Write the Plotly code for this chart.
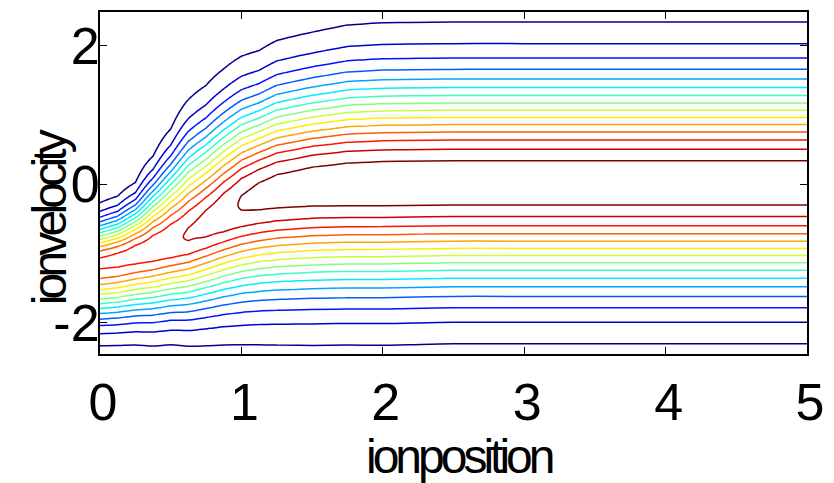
import numpy as np
import plotly.graph_objects as go

# Ion phase-space density: each column is a velocity profile sampled at an ion position.
# Profile described by its peak height (in contour-level units), centre velocity
# and separate thermal widths above and below the centre.
x_station = [0.0, 0.125, 0.25, 0.375, 0.5, 0.625, 0.75, 0.875, 1.0, 1.125,
             1.25, 1.5, 1.75, 2.0, 2.5, 3.0, 4.0, 5.0]
peak = [13.2, 13.3, 13.45, 13.65, 13.85, 14.1, 14.4, 14.75, 15.1, 15.35,
        15.5, 15.65, 15.75, 15.8, 15.8, 15.8, 15.8, 15.8]
center = [-1.13, -1.08, -1.0, -0.92, -0.83, -0.73, -0.58, -0.42, -0.27, -0.17,
          -0.10, -0.03, 0.0, 0.01, 0.02, 0.02, 0.02, 0.02]
width_upper = [0.38, 0.40, 0.45, 0.58, 0.71, 0.85, 0.87, 0.90, 0.91, 0.90,
               0.93, 0.95, 0.98, 0.99, 0.99, 0.99, 0.99, 0.99]
width_lower = [0.53, 0.55, 0.58, 0.62, 0.65, 0.70, 0.76, 0.82, 0.88, 0.92,
               0.95, 0.98, 0.99, 0.995, 0.99, 0.99, 0.99, 0.99]

x_ticks = [0, 1, 2, 3, 4, 5]
y_ticks = [-2, 0, 2]
y_tick_labels = ["-2", "0", "2"]

velocity = np.linspace(-2.6, 2.6, 261)

A = np.array(peak)[None, :]
u = np.array(center)[None, :]
su = np.array(width_upper)[None, :]
sl = np.array(width_lower)[None, :]
V = velocity[:, None]
sigma = np.where(V > u, su, sl)
density = A * np.exp(-0.5 * ((V - u) / sigma) ** 2)

jet = [[0.0, "rgb(0,0,143)"], [0.125, "rgb(0,0,255)"], [0.375, "rgb(0,255,255)"],
       [0.625, "rgb(255,255,0)"], [0.875, "rgb(255,0,0)"], [1.0, "rgb(128,0,0)"]]

FONT = "Liberation Sans, Arial, Helvetica, sans-serif"

fig = go.Figure(go.Contour(
    x=x_station, y=velocity, z=density,
    contours=dict(start=1, end=15, size=1, coloring="lines"),
    line=dict(width=1.5),
    colorscale=jet, zmin=0, zmax=15.8, zauto=False,
    showscale=False, hoverinfo="skip",
))

axis_common = dict(
    showgrid=False, zeroline=False, showline=True, linecolor="black", linewidth=2,
    mirror="allticks", ticks="inside", ticklen=7, tickwidth=1, tickcolor="black",
    tickfont=dict(family=FONT, size=52, color="black"),
)
fig.update_xaxes(range=[0, 5], tickvals=x_ticks, ticklabelstandoff=2,
                 ticklabelshift=3, **axis_common)
fig.update_yaxes(range=[-2.453, 2.49], tickvals=y_ticks, ticktext=y_tick_labels,
                 ticklabelstandoff=-12, **axis_common)


def squeezed(text, spacing):
    return f'<span style="letter-spacing:{spacing}px">{text}</span>'


fig.update_layout(
    width=834, height=483,
    margin=dict(l=100, r=18, t=10, b=129),
    paper_bgcolor="white", plot_bgcolor="white",
    showlegend=False,
    annotations=[
        dict(text=squeezed("ionposition", -4), xref="paper", yref="paper", x=0.508, y=-0.30,
             xanchor="center", yanchor="middle", showarrow=False,
             font=dict(family=FONT, size=48, color="black")),
        dict(text=squeezed("ionvelocity", -4.8), xref="paper", yref="paper", x=-0.072, y=0.40,
             xanchor="center", yanchor="middle", showarrow=False, textangle=-90,
             font=dict(family=FONT, size=48, color="black")),
    ],
)

fig.write_html("out.html")
